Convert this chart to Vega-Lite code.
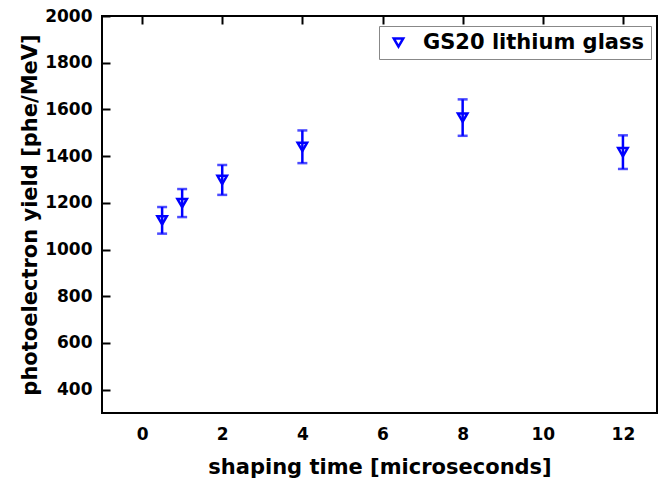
{
  "$schema": "https://vega.github.io/schema/vega-lite/v6.json",
  "autosize": "none",
  "width": 555,
  "height": 397,
  "padding": {"left": 102, "top": 16, "right": 5, "bottom": 70},
  "background": "white",
  "config": {
    "view": {"stroke": "black", "strokeWidth": 2},
    "font": "DejaVu Sans",
    "axis": {
      "grid": true,
      "gridColor": "#000000",
      "gridWidth": 2,
      "gridOpacity": 1,
      "domain": false,
      "ticks": false,
      "labelFont": "DejaVu Sans",
      "labelFontWeight": "bold",
      "labelFontSize": 17,
      "labelColor": "black",
      "titleFont": "DejaVu Sans",
      "titleFontWeight": "bold",
      "titleFontSize": 21,
      "titleColor": "black"
    }
  },
  "data": {
    "values": [
      {"t": 0.5, "y": 1125, "lo": 1068, "hi": 1182, "series": "GS20 lithium glass"},
      {"t": 1, "y": 1199, "lo": 1139, "hi": 1259, "series": "GS20 lithium glass"},
      {"t": 2, "y": 1298, "lo": 1234, "hi": 1362, "series": "GS20 lithium glass"},
      {"t": 4, "y": 1440, "lo": 1370, "hi": 1510, "series": "GS20 lithium glass"},
      {"t": 8, "y": 1565, "lo": 1487, "hi": 1643, "series": "GS20 lithium glass"},
      {"t": 12, "y": 1417, "lo": 1345, "hi": 1489, "series": "GS20 lithium glass"}
    ]
  },
  "layer": [
    {
      "mark": {"type": "rule", "color": "#0000FF", "strokeWidth": 2.5},
      "encoding": {
        "x": {
          "field": "t", "type": "quantitative",
          "scale": {"domain": [-1, 12.85], "nice": false, "zero": false},
          "axis": {
            "orient": "bottom",
            "title": "shaping time [microseconds]",
            "values": [0, 2, 4, 6, 8, 10, 12],
            "format": "d",
            "gridDash": [8, 2000],
            "labelPadding": 13,
            "titleBaseline": "alphabetic",
            "titleY": 60
          }
        },
        "y": {
          "field": "lo", "type": "quantitative",
          "scale": {"domain": [300, 2000], "nice": false, "zero": false},
          "axis": {
            "orient": "left",
            "title": "photoelectron yield [phe/MeV]",
            "values": [400, 600, 800, 1000, 1200, 1400, 1600, 1800, 2000],
            "format": "d",
            "gridDash": [8, 2000],
            "labelPadding": 10,
            "titleX": -72,
            "titleBaseline": "middle"
          }
        },
        "y2": {"field": "hi"}
      }
    },
    {
      "mark": {"type": "tick", "color": "#0000FF", "thickness": 2.5, "size": 10, "orient": "horizontal"},
      "encoding": {
        "x": {
          "field": "t", "type": "quantitative",
          "axis": {"orient": "bottom", "title": null, "labels": false,
                   "values": [1, 3, 5, 7, 9, 11], "gridDash": [5, 2000]}
        },
        "y": {
          "field": "lo", "type": "quantitative",
          "axis": {"orient": "left", "title": null, "labels": false,
                   "values": [500, 700, 900, 1100, 1300, 1500, 1700, 1900], "gridDash": [5, 2000]}
        }
      }
    },
    {
      "mark": {"type": "tick", "color": "#0000FF", "thickness": 2.5, "size": 10, "orient": "horizontal"},
      "encoding": {
        "x": {
          "field": "t", "type": "quantitative",
          "axis": {"orient": "top", "title": null, "labels": false,
                   "values": [0, 2, 4, 6, 8, 10, 12], "gridDash": [8, 2000]}
        },
        "y": {
          "field": "hi", "type": "quantitative",
          "axis": {"orient": "right", "title": null, "labels": false,
                   "values": [400, 600, 800, 1000, 1200, 1400, 1600, 1800, 2000], "gridDash": [8, 2000]}
        }
      }
    },
    {
      "mark": {"type": "point", "filled": false, "strokeWidth": 2.5, "size": 90, "opacity": 1},
      "encoding": {
        "x": {
          "field": "t", "type": "quantitative",
          "axis": {"orient": "top", "title": null, "labels": false,
                   "values": [1, 3, 5, 7, 9, 11], "gridDash": [5, 2000]}
        },
        "y": {
          "field": "y", "type": "quantitative",
          "axis": {"orient": "right", "title": null, "labels": false,
                   "values": [500, 700, 900, 1100, 1300, 1500, 1700, 1900], "gridDash": [5, 2000]}
        },
        "color": {
          "field": "series", "type": "nominal",
          "scale": {"range": ["#0000FF"]},
          "legend": {
            "title": null,
            "orient": "none",
            "legendX": 277,
            "legendY": 10,
            "strokeColor": "#888888",
            "fillColor": "white",
            "padding": 6,
            "symbolOffset": 3,
            "symbolSize": 90,
            "symbolStrokeWidth": 2.5,
            "labelFont": "DejaVu Sans",
            "labelFontWeight": "bold",
            "labelFontSize": 21,
            "labelColor": "black",
            "labelOffset": 14,
            "labelLimit": 400,
            "zindex": 2
          }
        },
        "shape": {
          "field": "series", "type": "nominal",
          "scale": {"range": ["triangle-down"]},
          "legend": null
        }
      }
    }
  ],
  "resolve": {"axis": {"x": "independent", "y": "independent"}}
}
